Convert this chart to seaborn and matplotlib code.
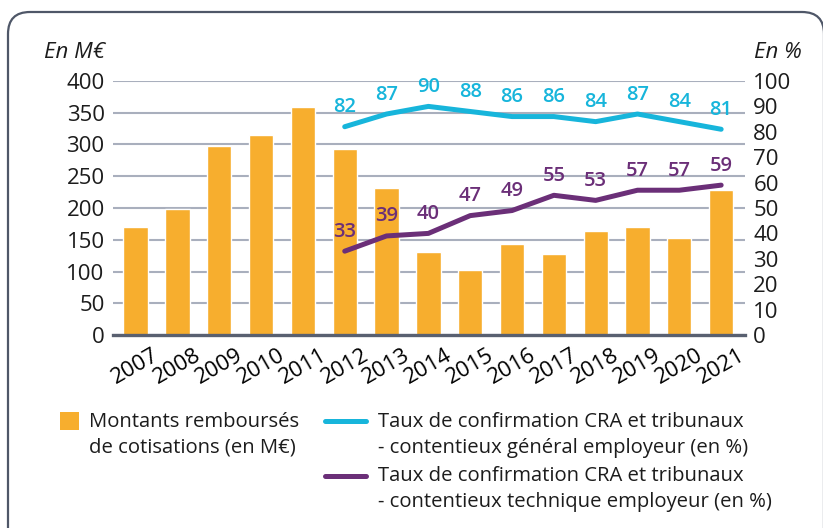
import matplotlib
matplotlib.use("Agg")
import matplotlib.pyplot as plt
from matplotlib.patches import FancyBboxPatch, Rectangle
from matplotlib.lines import Line2D
from matplotlib.transforms import IdentityTransform
import seaborn as sns
import pandas as pd

# --- data -------------------------------------------------------------
years = ["2007", "2008", "2009", "2010", "2011", "2012", "2013", "2014",
         "2015", "2016", "2017", "2018", "2019", "2020", "2021"]
montants = [170, 199, 298, 315, 359, 293, 232, 130, 102, 143, 128, 163, 170, 153, 228]

taux_years = ["2012", "2013", "2014", "2015", "2016", "2017", "2018", "2019", "2020", "2021"]
taux_general = [82, 87, 90, 88, 86, 86, 84, 87, 84, 81]
taux_technique = [33, 39, 40, 47, 49, 55, 53, 57, 57, 59]

left_ticks = [0, 50, 100, 150, 200, 250, 300, 350, 400]
right_ticks = [0, 10, 20, 30, 40, 50, 60, 70, 80, 90, 100]

legend_labels = [
    "Montants remboursés\nde cotisations (en M€)",
    "Taux de confirmation CRA et tribunaux\n- contentieux général employeur (en %)",
    "Taux de confirmation CRA et tribunaux\n- contentieux technique employeur (en %)",
]

# --- style --------------------------------------------------------------
ORANGE = "#F7AE2E"
CYAN = "#17B5DB"
PURPLE = "#6B2F78"
GRID = "#A9AFBD"
AXIS = "#596070"
BORDER = "#4F5768"
TEXT = "#1C1C1C"

sns.set_style("white")
plt.rcParams["font.family"] = ["Open Sans", "DejaVu Sans"]

W, H = 823, 528
fig = plt.figure(figsize=(W / 100, H / 100), dpi=100)
fig.patch.set_facecolor("white")

# rounded frame around the whole figure
frame = FancyBboxPatch((8, -30), 816, H - 12 + 30,
                       boxstyle="round,pad=0,rounding_size=22",
                       transform=IdentityTransform(), facecolor="none",
                       edgecolor=BORDER, linewidth=1.6, zorder=0)
fig.add_artist(frame)

ax = fig.add_axes([113 / W, 1 - 335 / H, (745 - 113) / W, (335 - 81) / H])
ax.set_facecolor("none")

# bars
df_bar = pd.DataFrame({"annee": years, "montant": montants})
sns.barplot(data=df_bar, x="annee", y="montant", color=ORANGE, saturation=1,
            width=0.58, ax=ax, zorder=3)

ax.set_ylim(0, 400)
ax.set_xlim(-0.54, 14.57)
ax.set_yticks(left_ticks)
ax.set_yticklabels([str(t) for t in left_ticks], fontsize=16, color=TEXT)
ax.set_xticks(range(len(years)))
ax.set_xticklabels(years, rotation=30, ha="center", fontsize=16,
                   fontweight="medium", color="black")
ax.tick_params(axis="both", length=0)
ax.tick_params(axis="y", pad=6)
ax.tick_params(axis="x", pad=7)
ax.set_xlabel("")
ax.set_ylabel("")
ax.yaxis.grid(True, color=GRID, linewidth=1.5, zorder=1)
ax.set_axisbelow(True)
for s in ("left", "right", "top"):
    ax.spines[s].set_visible(False)
ax.spines["bottom"].set_color(AXIS)
ax.spines["bottom"].set_linewidth(2.4)
ax.spines["bottom"].set_zorder(4)

# lines on the percentage axis
ax2 = ax.twinx()
pos = [years.index(y) for y in taux_years]
df_line = pd.DataFrame({"pos": pos, "general": taux_general, "technique": taux_technique})
sns.lineplot(data=df_line, x="pos", y="general", color=CYAN, linewidth=3.6,
             ax=ax2, solid_capstyle="round", zorder=5)
sns.lineplot(data=df_line, x="pos", y="technique", color=PURPLE, linewidth=3.6,
             ax=ax2, solid_capstyle="round", zorder=5)
ax2.set_ylim(0, 100)
ax2.set_xlim(-0.54, 14.57)
ax2.set_yticks(right_ticks)
ax2.set_yticklabels([str(t) for t in right_ticks], fontsize=16, color=TEXT)
ax2.tick_params(axis="y", length=0, pad=6)
ax2.set_ylabel("")
ax2.set_xlabel("")
for s in ("left", "right", "top", "bottom"):
    ax2.spines[s].set_visible(False)

for x, v in zip(pos, taux_general):
    ax2.annotate(str(v), (x, v), xytext=(0, 14), textcoords="offset points",
                 ha="center", va="center", fontsize=14.5, fontweight="semibold",
                 color=CYAN, zorder=6)
for x, v in zip(pos, taux_technique):
    ax2.annotate(str(v), (x, v), xytext=(0, 14), textcoords="offset points",
                 ha="center", va="center", fontsize=14.5, fontweight="semibold",
                 color=PURPLE, zorder=6)

# unit captions
fig.text(105 / W, 1 - 52 / H, "En M€", ha="right", va="center",
         fontsize=16, fontstyle="italic", color=TEXT)
fig.text(754 / W, 1 - 52 / H, "En %", ha="left", va="center",
         fontsize=16, fontstyle="italic", color=TEXT)

# legend drawn below the plot
LEG_SIZE = 14.6
fig.add_artist(Rectangle((60, H - 430), 19, 18, transform=IdentityTransform(),
                         facecolor=ORANGE, edgecolor="none"))
fig.add_artist(Line2D([325, 366], [H - 421, H - 421], transform=IdentityTransform(),
                      color=CYAN, linewidth=3.6, solid_capstyle="round"))
fig.add_artist(Line2D([325, 366], [H - 476, H - 476], transform=IdentityTransform(),
                      color=PURPLE, linewidth=3.6, solid_capstyle="round"))

entries = [(89, 427, legend_labels[0]), (378, 427, legend_labels[1]),
           (378, 481, legend_labels[2])]
for x0, base, label in entries:
    for i, line in enumerate(label.split("\n")):
        fig.text(x0 / W, 1 - (base + 26 * i) / H, line, ha="left", va="baseline",
                 fontsize=LEG_SIZE, color=TEXT)

fig.savefig("out.png", dpi=100)
